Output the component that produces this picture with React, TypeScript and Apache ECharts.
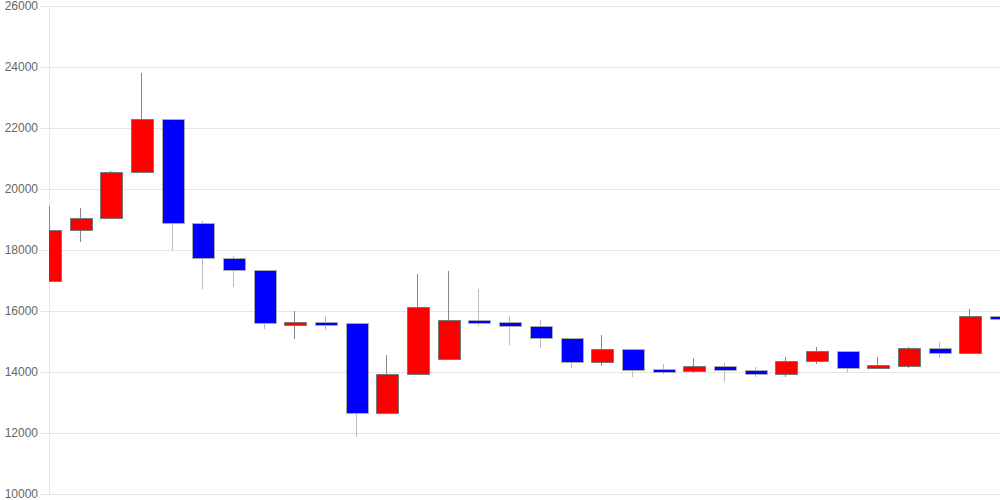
import React, { useEffect, useRef } from "react";
import * as echarts from "echarts";

const categories = [
  "1", "2", "3", "4", "5", "6", "7", "8", "9", "10", "11", "12", "13", "14", "15", "16",
  "17", "18", "19", "20", "21", "22", "23", "24", "25", "26", "27", "28", "29", "30", "31", "32",
];
const opens = [
  17000, 18650, 19050, 20570, 22290, 18880, 17740, 17340, 15600, 15650, 15600, 12660, 13930, 14420, 15710, 15650,
  15520, 15130, 14330, 14740, 14080, 14040, 14190, 14070, 13930, 14350, 14690, 14120, 14200, 14780, 14620, 15830,
];
const closes = [
  18650, 19050, 20570, 22290, 18880, 17740, 17340, 15600, 15650, 15600, 12660, 13930, 16140, 15700, 15660, 15510,
  15120, 14330, 14740, 14080, 14050, 14190, 14060, 13930, 14350, 14690, 14120, 14220, 14780, 14620, 15830, 15790,
];
const lows = [
  17000, 18250, 19050, 20570, 18000, 16720, 16800, 15400, 15070, 15380, 11880, 12660, 13930, 14420, 15520, 14900,
  14780, 14120, 14210, 13850, 13940, 13980, 13680, 13850, 13840, 14270, 14010, 14120, 14140, 14470, 14620, 15430,
];
const highs = [
  19450, 19380, 20600, 23800, 22290, 18950, 17800, 17340, 16000, 15840, 15600, 14560, 17210, 17320, 16720, 15830,
  15700, 15130, 15200, 14740, 14260, 14450, 14290, 14150, 14490, 14820, 14690, 14490, 14810, 14980, 16070, 16230,
];
const yTicks = { min: 10000, max: 26000, interval: 2000 };

export default function App() {
  const ref = useRef<HTMLDivElement>(null);
  useEffect(() => {
    if (!ref.current) return;
    const chart = echarts.init(ref.current, undefined, { renderer: "svg" });
    const data = categories.map((_, i) => [i, opens[i], closes[i], lows[i], highs[i]]);
    const bodyW = 22;
    chart.setOption({
      animation: false,
      grid: { left: 49, right: 0, top: 6, bottom: 6, containLabel: false },
      xAxis: {
        type: "category",
        data: categories,
        boundaryGap: false,
        axisLine: { show: true, lineStyle: { color: "#e6e6e6" } },
        axisTick: { show: false },
        axisLabel: { show: false },
        splitLine: { show: false },
      },
      yAxis: {
        type: "value",
        min: yTicks.min,
        max: yTicks.max,
        interval: yTicks.interval,
        axisLine: { show: true, lineStyle: { color: "#e6e6e6" } },
        axisTick: { show: true, length: 9, lineStyle: { color: "#e6e6e6" } },
        axisLabel: {
          margin: 11,
          color: "#666",
          fontSize: 12,
          fontFamily: "'Liberation Sans', Arial, sans-serif",
          formatter: (v: number) => String(v),
        },
        splitLine: { show: true, lineStyle: { color: "#e6e6e6" } },
      },
      series: [
        {
          type: "custom",
          clip: true,
          data,
          encode: { x: 0, y: [1, 2, 3, 4] },
          renderItem: (params: any, api: any) => {
            const idx = api.value(0);
            const o = api.value(1);
            const c = api.value(2);
            const lo = api.value(3);
            const hi = api.value(4);
            const pO = api.coord([idx, o]);
            const pC = api.coord([idx, c]);
            const pL = api.coord([idx, lo]);
            const pH = api.coord([idx, hi]);
            const up = c >= o;
            const cx = Math.round(pO[0]) + 0.5;
            let top = Math.round(Math.min(pO[1], pC[1])) + 0.5;
            let bot = Math.round(Math.max(pO[1], pC[1])) + 0.5;
            if (bot - top < 3) {
              const mid = (top + bot) / 2;
              top = Math.round(mid - 1.5) + 0.5;
              bot = top + 3;
            }
            const h = bot - top;
            const stroke = up ? "#777777" : "#aaaaaa";
            return {
              type: "group",
              children: [
                {
                  type: "line",
                  shape: { x1: cx, y1: Math.round(pH[1]), x2: cx, y2: Math.round(pL[1]) },
                  style: { stroke: up ? "#888888" : "#bbbbbb", lineWidth: 1 },
                },
                {
                  type: "rect",
                  shape: { x: Math.round(cx - bodyW / 2) + 0.5, y: top, width: bodyW, height: h },
                  style: { fill: up ? "#ff0000" : "#0000ff", stroke, lineWidth: 1 },
                },
              ],
            };
          },
        },
      ],
    });
    return () => chart.dispose();
  }, []);
  return <div ref={ref} style={{ width: 1000, height: 500, position: "absolute", left: 0, top: 0 }} />;
}
